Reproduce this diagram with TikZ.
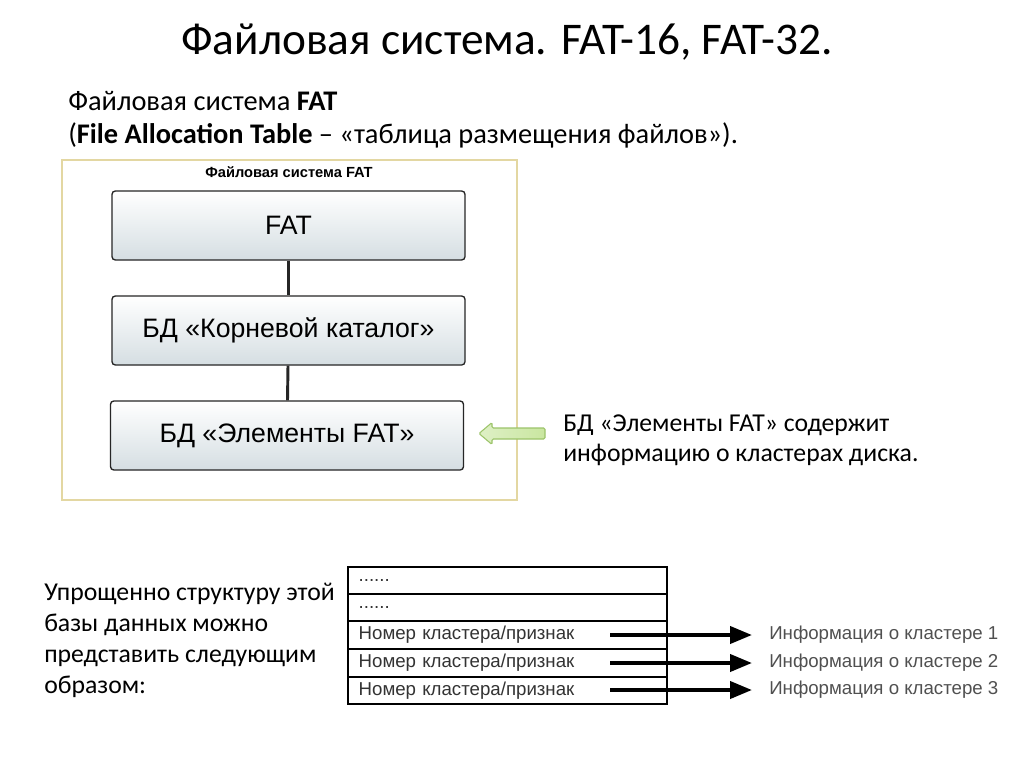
\documentclass[tikz,border=0pt]{standalone}
\usepackage{fontspec}
\setmainfont{Carlito}
\newfontfamily\arialf{Liberation Sans}
\usetikzlibrary{arrows.meta,calc}
\definecolor{framec}{HTML}{E3D7A2}
\definecolor{boxbot}{HTML}{D5DEE2}
\definecolor{greenf}{HTML}{C9E6A0}
\definecolor{greenb}{HTML}{9CC46A}
\definecolor{labgray}{HTML}{505050}
\tikzset{
  slidetext/.style={inner sep=0pt, anchor=base west, font=\fontsize{21.3}{25}\selectfont},
  notetext/.style={inner sep=0pt, anchor=base west, font=\fontsize{19.3}{23}\selectfont},
  fatbox/.style={draw=black!85, line width=1pt, rounded corners=2.5pt, top color=white, bottom color=boxbot,
    minimum width=264.75pt, minimum height=51.75pt, inner sep=0pt, font=\arialf\fontsize{20}{24}\selectfont},
  link/.style={line width=2.2pt, black!85},
  rowbox/.style={draw, line width=1.1pt, text width=223.25pt, inner xsep=8pt, inner ysep=0pt, align=left,
    font=\arialf\fontsize{14}{16}\selectfont, text=black!80},
  infolab/.style={inner sep=0pt, anchor=west, font=\arialf\fontsize{14}{16}\selectfont, text=labgray},
  bigarrow/.style={line width=3pt, -{Triangle[length=16.5pt,width=12.75pt]}},
  greenarrow/.style={draw=greenb, line width=0.8pt, rounded corners=1pt, left color=greenf!60!white, right color=greenf},
}
\begin{document}
\begin{tikzpicture}[x=0.75pt,y=-0.75pt]
\useasboundingbox[fill=white] (0,0) rectangle (1024,767);
% title
\node[inner sep=0pt, anchor=base, font=\fontsize{34}{40}\selectfont] (title) at (507,55) {Файловая система. FAT-16, FAT-32.};
\node[slidetext] (sub1) at (68,110) {Файловая система \textbf{FAT}};
\node[slidetext] (sub2) at (68,143) {(\textbf{File Allocation Table} – «таблица размещения файлов»).};
% frame
\draw[framec, line width=1.6pt, fill=white] (62,160) rectangle (517,500);
\node[inner sep=0pt, font=\arialf\bfseries\fontsize{11}{12}\selectfont] (ftitle) at (289,172) {Файловая система FAT};
\node[fatbox] (b1) at (288.5,225.5) {FAT};
\node[fatbox] (b2) at (288.5,330.5) {БД «Корневой каталог»};
\node[fatbox] (b3) at (287,435.5) {БД «Элементы FAT»};
\draw[link] (b1) -- (b2);
\draw[link] (b2) -- (b3);
% green arrow
\path[greenarrow] (479,433.5) -- (492,422.5) -- (492,428) -- (545,428) -- (545,439) -- (492,439) -- (492,444.5) -- cycle;
\node[notetext] (note1) at (563,431) {БД «Элементы FAT» содержит};
\node[notetext] (note2) at (563,461) {информацию о кластерах диска.};
% left text
\node[notetext] (l1) at (44,600) {Упрощенно структуру этой};
\node[notetext] (l2) at (44,631) {базы данных можно};
\node[notetext] (l3) at (44,662) {представить следующим};
\node[notetext] (l4) at (44,693) {образом:};
% table
\node[rowbox, minimum height=20.25pt] (r1) at (507.5,580.5) {......};
\node[rowbox, minimum height=20.25pt] (r2) at (507.5,607.5) {......};
\node[rowbox, minimum height=21pt] (r3) at (507.5,635) {Номер кластера/признак};
\node[rowbox, minimum height=21pt] (r4) at (507.5,663) {Номер кластера/признак};
\node[rowbox, minimum height=20.25pt] (r5) at (507.5,690.5) {Номер кластера/признак};
\coordinate (s1) at (610,635);
\coordinate (s2) at (610,663);
\coordinate (s3) at (610,690);
\node[infolab] (i1) at (769,635) {Информация о кластере 1};
\node[infolab] (i2) at (769,663) {Информация о кластере 2};
\node[infolab] (i3) at (769,690) {Информация о кластере 3};
\draw[bigarrow] (s1) -- ([xshift=-12.75pt]i1.west);
\draw[bigarrow] (s2) -- ([xshift=-12.75pt]i2.west);
\draw[bigarrow] (s3) -- ([xshift=-12.75pt]i3.west);
\end{tikzpicture}
\end{document}
